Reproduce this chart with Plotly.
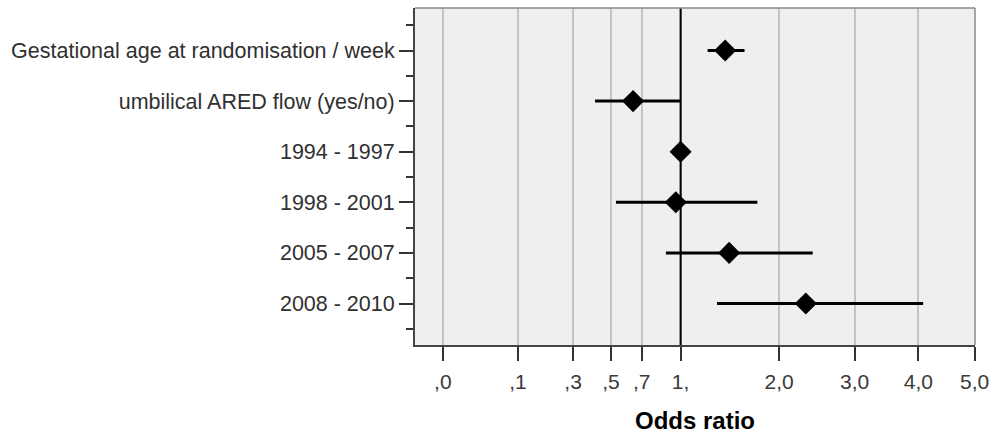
import numpy as np
import plotly.graph_objects as go

# ---- data ----
categories = [
    "Gestational age at randomisation / week",
    "umbilical ARED flow (yes/no)",
    "1994 - 1997",
    "1998 - 2001",
    "2005 - 2007",
    "2008 - 2010",
]
odds_ratio = [1.41, 0.64, 1.00, 0.96, 1.45, 2.33]
ci_low = [1.24, 0.41, 1.00, 0.53, 0.88, 1.33]
ci_high = [1.61, 1.00, 1.00, 1.75, 2.42, 4.08]

tick_values = [0.0, 0.1, 0.3, 0.5, 0.7, 1.0, 2.0, 3.0, 4.0, 5.0]
tick_labels = [",0", ",1", ",3", ",5", ",7", "1,", "2,0", "3,0", "4,0", "5,0"]
reference_or = 1.0

# square-root scale transform
def tr(v):
    return np.sqrt(np.asarray(v, dtype=float))

x = tr(odds_ratio)
err_plus = tr(ci_high) - x
err_minus = x - tr(ci_low)
ypos = list(range(len(categories)))

fig = go.Figure()
fig.add_trace(go.Scatter(
    x=x, y=ypos, mode="markers",
    marker=dict(symbol="diamond", size=17, color="black", line=dict(width=0)),
    error_x=dict(type="data", array=err_plus, arrayminus=err_minus,
                 symmetric=False, thickness=3, width=0, color="black"),
    showlegend=False, hoverinfo="skip",
))

rx = float(tr(reference_or))
fig.add_shape(type="line", xref="x", yref="paper", x0=rx, x1=rx, y0=0, y1=1,
              line=dict(color="black", width=2), layer="above")
# top and right light border
fig.add_shape(type="line", xref="paper", yref="paper", x0=0, x1=1, y0=1, y1=1,
              line=dict(color="#8a8a8a", width=1.5), layer="above")
fig.add_shape(type="line", xref="paper", yref="paper", x0=1, x1=1, y0=0, y1=1,
              line=dict(color="#8a8a8a", width=1.5), layer="above")

font_family = "Liberation Sans, Arial, sans-serif"

fig.update_layout(
    width=992, height=437,
    margin=dict(l=415, r=17, t=8, b=92),
    paper_bgcolor="white",
    plot_bgcolor="#efefef",
    font=dict(family=font_family, size=21, color="#303030"),
    xaxis=dict(
        range=[-0.117, 2.238],
        automargin=False,
        tickmode="array",
        tickvals=list(tr(tick_values)),
        ticktext=tick_labels,
        ticks="outside", ticklen=14, tickwidth=2, tickcolor="#333333",
        ticklabelstandoff=3,
        showgrid=True, gridcolor="#c4c4c4", gridwidth=1.5,
        zeroline=False,
        showline=True, linecolor="#444444", linewidth=2,
        tickfont=dict(size=21, color="#3a3a3a"),
        title=dict(text="<b>Odds ratio</b>",
                   font=dict(size=24, color="black", family=font_family),
                   standoff=20),
    ),
    yaxis=dict(
        range=[5.82, -0.84],
        automargin=False,
        tickmode="array",
        tickvals=ypos,
        ticktext=categories,
        ticks="outside", ticklen=14, tickwidth=2, tickcolor="#333333",
        showgrid=False, zeroline=False,
        showline=True, linecolor="#444444", linewidth=2,
        tickfont=dict(size=21.5, color="#303030"),
        minor=dict(tickmode="array",
                   tickvals=[v + 0.5 for v in range(-1, len(categories))],
                   ticks="outside", ticklen=7, tickwidth=2, tickcolor="#333333",
                   showgrid=False),
    ),
)

fig.write_html("out.html")
